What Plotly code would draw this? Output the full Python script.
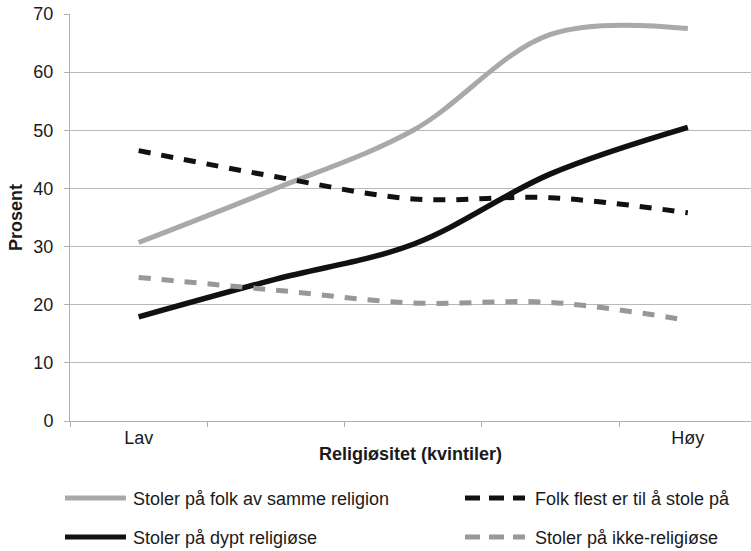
import plotly.graph_objects as go

# religiøsitet i kvintiler, bare ytterpunktene har navn
kvintiler = [0, 1, 2, 3, 4]
kvintil_tekst = ["Lav", "", "", "", "Høy"]

serie_navn = [
    "Stoler på folk av samme religion",
    "Folk flest er til å stole på",
    "Stoler på dypt religiøse",
    "Stoler på ikke-religiøse",
]
samme_religion = [30.7, 40.0, 50.0, 66.5, 67.5]
folk_flest = [46.5, 42.0, 38.2, 38.4, 35.8]
dypt_religiose = [17.9, 24.4, 30.4, 42.5, 50.5]
ikke_religiose = [24.7, 22.5, 20.3, 20.4, 17.3]

verdier = [samme_religion, folk_flest, dypt_religiose, ikke_religiose]
farger = ["#a9a9a9", "#111111", "#111111", "#989898"]
streker = ["solid", "12px,11px", "solid", "12px,11px"]
bredder = [5, 5, 5.5, 5]

FONT = "Liberation Sans, Arial, sans-serif"
W, H = 751, 551
L, R, T, B = 70, 0, 14, 130

fig = go.Figure()
for navn, y, farge, strek, bredde in zip(serie_navn, verdier, farger, streker, bredder):
    fig.add_scatter(x=kvintiler, y=y, mode="lines", name=navn, showlegend=False,
                    line=dict(color=farge, width=bredde, dash=strek, shape="spline", smoothing=1))

# egen tegnforklaring, to kolonner
def px2paper(px, py):
    return (px - L) / (W - L - R), (H - B - py) / (H - T - B)

legend_pos = [(65, 126, 498, 131), (465, 525, 498, 533), (65, 126, 537, 131), (465, 525, 537, 533)]
legend_strek = ["solid", "15px,9px", "solid", "15px,9px"]
for navn, farge, strek, (x0, x1, yy, xt) in zip(serie_navn, farger, legend_strek, legend_pos):
    a0, b0 = px2paper(x0, yy)
    a1, _ = px2paper(x1, yy)
    fig.add_shape(type="line", xref="paper", yref="paper", x0=a0, x1=a1, y0=b0, y1=b0,
                  line=dict(color=farge, width=5, dash=strek))
    at, bt = px2paper(xt, yy + 1)
    fig.add_annotation(text=navn, xref="paper", yref="paper", x=at, y=bt, xanchor="left",
                       yanchor="middle", showarrow=False, font=dict(size=18, color="#1a1a1a"))

fig.update_layout(
    width=W, height=H,
    margin=dict(l=L, r=R, t=T, b=B, autoexpand=False),
    paper_bgcolor="white", plot_bgcolor="white",
    font=dict(family=FONT, size=18, color="#1a1a1a"),
)
fig.update_xaxes(
    range=[-0.5, 4.46], tickvals=kvintiler, ticktext=kvintil_tekst, ticks="",
    showgrid=False, zeroline=False, showline=True, linecolor="#b0b0b0", linewidth=1,
    minor=dict(tickmode="array", tickvals=[-0.5, 0.5, 1.5, 2.5, 3.5], ticks="outside",
               ticklen=5, tickcolor="#b0b0b0", showgrid=False),
    title=dict(text="<b>Religiøsitet (kvintiler)</b>", standoff=0, font=dict(size=18)),
    automargin=False,
)
fig.update_yaxes(
    range=[0, 70], dtick=10, showgrid=True, gridcolor="#b8b8b8", gridwidth=1,
    zeroline=False, showline=True, linecolor="#b0b0b0", linewidth=1,
    ticks="outside", ticklen=5, tickcolor="#b0b0b0", ticklabelstandoff=7,
    title=dict(text="<b>Prosent</b>", standoff=6, font=dict(size=18)),
    automargin=False,
)

# siden har 8px marg rundt body som standard
fig.write_html("out.html", config={"displayModeBar": False},
               post_script="document.body.style.margin='0';")
